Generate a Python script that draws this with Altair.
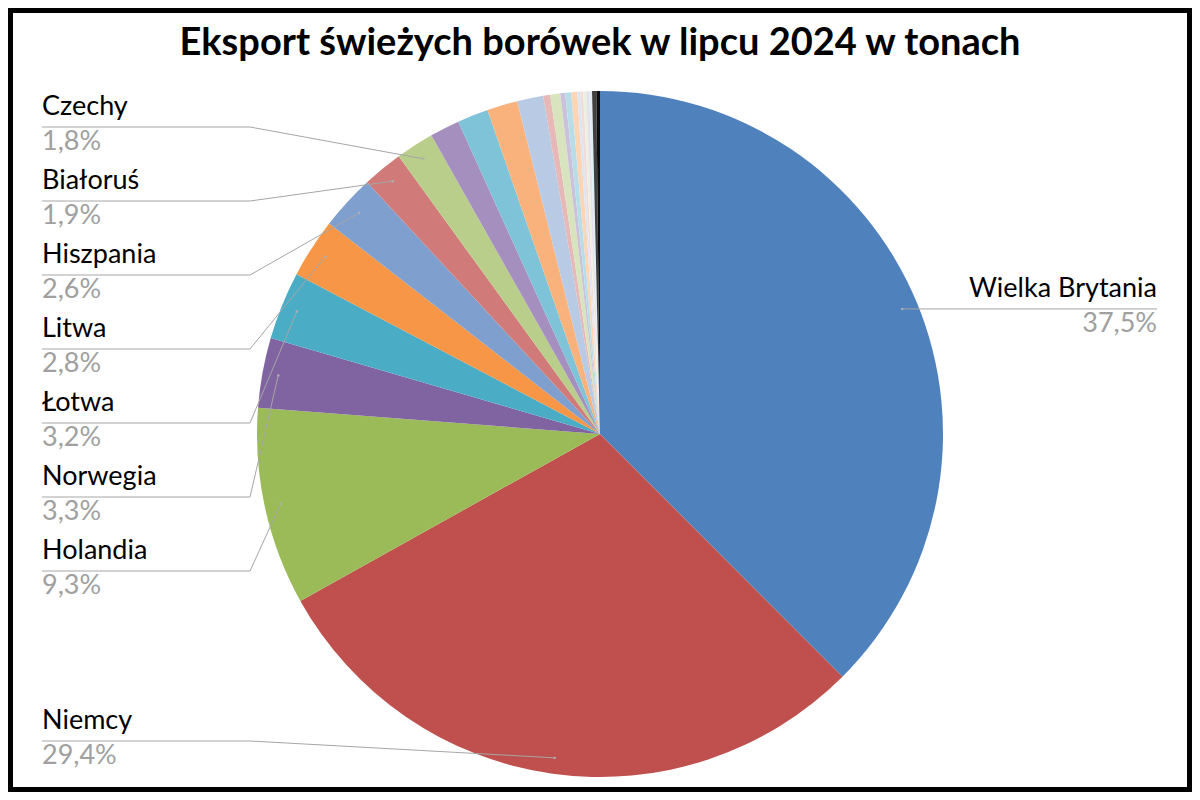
import math
import altair as alt
import pandas as pd

TITLE = "Eksport świeżych borówek w lipcu 2024 w tonach"

countries = [
    "Wielka Brytania", "Niemcy", "Holandia", "Norwegia", "Łotwa", "Litwa",
    "Hiszpania", "Białoruś", "Czechy",
    "Pozostałe 1", "Pozostałe 2", "Pozostałe 3", "Pozostałe 4", "Pozostałe 5",
    "Pozostałe 6", "Pozostałe 7", "Pozostałe 8", "Pozostałe 9", "Pozostałe 10",
    "Pozostałe 11", "Pozostałe 12", "Pozostałe 13", "Pozostałe 14",
    "Pozostałe 15", "Pozostałe 16",
]
shares = [
    37.5, 29.4, 9.3, 3.3, 3.2, 2.8, 2.6, 1.9, 1.8,
    1.40, 1.46, 1.44, 1.23, 0.33, 0.47, 0.23, 0.28, 0.28,
    0.14, 0.14, 0.14, 0.14, 0.13, 0.20, 0.17,
]
colors = [
    "#4F81BD", "#C0504D", "#9BBB59", "#8064A2", "#4BACC6", "#F79646",
    "#7F9FCF", "#D07B79", "#B9CE8B", "#A48FBF", "#7FC3D8", "#F9B27C",
    "#B8CAE4", "#E6B9B8", "#D7E4BD", "#CCC1DA", "#B7DEE8", "#FCD5B5",
    "#DCE6F2", "#F2DCDB", "#EBF1DE", "#E6E0EC", "#DBEEF4", "#404040", "#0D0D0D",
]
labeled = ["Wielka Brytania", "Niemcy", "Holandia", "Norwegia", "Łotwa",
           "Litwa", "Hiszpania", "Białoruś", "Czechy"]
# label layout (page pixels): side and underline y
label_side = ["right", "left", "left", "left", "left", "left", "left", "left", "left"]
label_line_y = [None, 741, 571, 497, 423, 349, 275, 201, 127]

# geometry (page pixels)
CX, CY, R = 600, 434, 343
R_DOT = 327
LEFT_X, ELBOW_X, RIGHT_X = 42, 250, 1157
W, H = 1184, 784

total = sum(shares)
cum = 0.0
mid = {}
for n, s in zip(countries, shares):
    a0 = cum / total * 2 * math.pi
    cum += s
    a1 = cum / total * 2 * math.pi
    mid[n] = (a0 + a1) / 2

pie_df = pd.DataFrame({"kraj": countries, "udzial": shares,
                       "kolejnosc": list(range(len(countries)))})

line_rows, dot_rows, left_rows, right_rows = [], [], [], []
for i, n in enumerate(labeled):
    a = mid[n]
    dx = CX + R_DOT * math.sin(a)
    dy = CY - R_DOT * math.cos(a)
    dot_rows.append({"kraj": n, "px": dx, "py": dy})
    s = shares[countries.index(n)]
    pct = f"{s:.1f}".replace(".", ",") + "%"
    if label_side[i] == "right":
        ly = dy
        line_rows += [{"kraj": n, "px": dx, "py": ly, "k": 0},
                      {"kraj": n, "px": RIGHT_X, "py": ly, "k": 1}]
        right_rows.append({"kraj": n, "pct": pct, "px": RIGHT_X, "ny": ly - 12, "py2": ly + 23})
    else:
        ly = label_line_y[i]
        line_rows += [{"kraj": n, "px": LEFT_X, "py": ly, "k": 0},
                      {"kraj": n, "px": ELBOW_X, "py": ly, "k": 1},
                      {"kraj": n, "px": dx, "py": dy, "k": 2}]
        left_rows.append({"kraj": n, "pct": pct, "px": LEFT_X, "ny": ly - 12, "py2": ly + 23})

xs = alt.Scale(domain=[8, 8 + W], nice=False, zero=False)
ys = alt.Scale(domain=[8, 8 + H], reverse=True, nice=False, zero=False)

FONT = "Lato"
NAME_SIZE = 27
GRAY_TXT = "#a0a0a0"
LINE_GRAY = "#a6a6a6"

arc = alt.Chart(pie_df).mark_arc(radius=R).encode(
    theta=alt.Theta("udzial:Q", stack=True),
    order=alt.Order("kolejnosc:Q"),
    color=alt.Color("kraj:N", scale=alt.Scale(domain=countries, range=colors), legend=None),
    x=alt.value(CX - 8),
    y=alt.value(CY - 8),
)

lines = alt.Chart(pd.DataFrame(line_rows)).mark_line(color=LINE_GRAY, strokeWidth=1).encode(
    x=alt.X("px:Q", scale=xs, axis=None),
    y=alt.Y("py:Q", scale=ys, axis=None),
    detail="kraj:N",
    order="k:Q",
)

dots = alt.Chart(pd.DataFrame(dot_rows)).mark_point(filled=True, size=6, color="#b0b0b0", opacity=1).encode(
    x=alt.X("px:Q", scale=xs, axis=None),
    y=alt.Y("py:Q", scale=ys, axis=None),
)

left_df = pd.DataFrame(left_rows)
right_df = pd.DataFrame(right_rows)

names_l = alt.Chart(left_df).mark_text(align="left", baseline="alphabetic", font=FONT,
                                       fontSize=NAME_SIZE, color="#000000").encode(
    x=alt.X("px:Q", scale=xs, axis=None), y=alt.Y("ny:Q", scale=ys, axis=None), text="kraj:N")
pcts_l = alt.Chart(left_df).mark_text(align="left", baseline="alphabetic", font=FONT,
                                      fontSize=NAME_SIZE, color=GRAY_TXT).encode(
    x=alt.X("px:Q", scale=xs, axis=None), y=alt.Y("py2:Q", scale=ys, axis=None), text="pct:N")
names_r = alt.Chart(right_df).mark_text(align="right", baseline="alphabetic", font=FONT,
                                        fontSize=NAME_SIZE, color="#000000").encode(
    x=alt.X("px:Q", scale=xs, axis=None), y=alt.Y("ny:Q", scale=ys, axis=None), text="kraj:N")
pcts_r = alt.Chart(right_df).mark_text(align="right", baseline="alphabetic", font=FONT,
                                       fontSize=NAME_SIZE, color=GRAY_TXT).encode(
    x=alt.X("px:Q", scale=xs, axis=None), y=alt.Y("py2:Q", scale=ys, axis=None), text="pct:N")

title = alt.Chart(pd.DataFrame({"t": [TITLE]})).mark_text(
    align="center", baseline="middle", font=FONT, fontSize=38, fontWeight="bold", color="#000000"
).encode(x=alt.value(600 - 8), y=alt.value(44 - 8), text="t:N")

border = alt.Chart(pd.DataFrame({"a": [0]})).mark_rect(
    filled=False, stroke="#000000", strokeWidth=10
).encode(x=alt.value(0), x2=alt.value(W), y=alt.value(0), y2=alt.value(H))

chart = alt.layer(arc, lines, dots, names_l, pcts_l, names_r, pcts_r, title, border).properties(
    width=W, height=H, padding=0, autosize=alt.AutoSizeParams(type="none"), background="white"
).configure_view(stroke=None)

chart.save("out.html", embed_options={"renderer": "svg", "actions": False})
